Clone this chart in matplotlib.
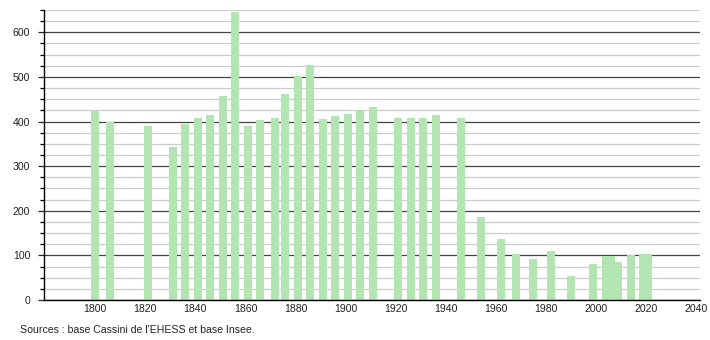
import matplotlib
matplotlib.use("Agg")
import matplotlib.pyplot as plt
from matplotlib.ticker import MultipleLocator

# census years and population
years = [1800, 1806, 1821, 1831, 1836, 1841, 1846, 1851, 1856, 1861,
         1866, 1872, 1876, 1881, 1886, 1891, 1896, 1901, 1906, 1911,
         1921, 1926, 1931, 1936, 1946, 1954, 1962, 1968, 1975, 1982,
         1990, 1999, 2004, 2006, 2009, 2014, 2019, 2021]
population = [424, 400, 389, 342, 394, 409, 414, 457, 645, 389,
              403, 407, 461, 501, 526, 405, 412, 418, 425, 432,
              409, 407, 409, 414, 407, 187, 137, 103, 92, 110,
              54, 80, 98, 99, 85, 100, 103, 104]
x_ticks = list(range(1800, 2041, 20))
source_text = "Sources : base Cassini de l'EHESS et base Insee."

plt.rcParams["font.family"] = ["Liberation Sans", "DejaVu Sans"]

fig = plt.figure(figsize=(7.1, 3.4), dpi=100)
ax = fig.add_axes([44 / 710, 40 / 340, 656 / 710, 290 / 340])

ax.bar(years, population, width=3.2, color="#b3e5b3", zorder=3)

ax.set_xlim(1779.5, 2041.7)
ax.set_ylim(0, 650)

ax.yaxis.set_major_locator(MultipleLocator(100))
ax.yaxis.set_minor_locator(MultipleLocator(25))
ax.grid(axis="y", which="minor", color="#cccccc", linewidth=0.9, zorder=1)
ax.grid(axis="y", which="major", color="#444444", linewidth=0.9, zorder=2)

ax.set_xticks(x_ticks)
ax.tick_params(axis="x", length=0, pad=3, labelsize=7.6, colors="#222222")
ax.tick_params(axis="y", which="major", length=4, width=0.9, pad=6,
               labelsize=7.6, colors="#222222")
ax.tick_params(axis="y", which="minor", length=3, width=0.9)

for side in ("top", "right"):
    ax.spines[side].set_visible(False)
for side in ("left", "bottom"):
    ax.spines[side].set_color("black")
    ax.spines[side].set_linewidth(1.0)
    ax.spines[side].set_zorder(4)

fig.text(20 / 710, 1 - 330 / 340, source_text, fontsize=7.6,
         color="#222222", va="center", ha="left")

fig.savefig("out.png", dpi=100)
